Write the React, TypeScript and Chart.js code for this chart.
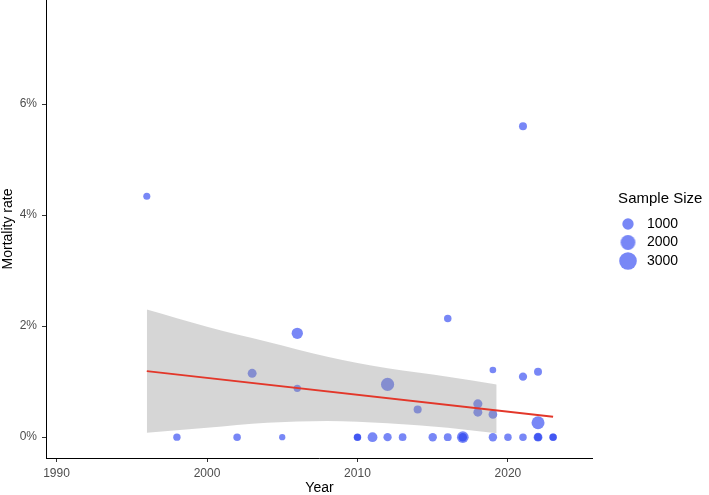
import React, { useEffect, useRef } from "react";
import { Chart, registerables } from "chart.js";

Chart.register(...registerables);

// ---- data ----
const pointYears = [
  1996, 1998, 2002, 2003, 2005, 2006, 2006, 2010, 2010, 2011, 2012, 2012,
  2013, 2014, 2015, 2016, 2016, 2017, 2017, 2018, 2018, 2019, 2019, 2019,
  2020, 2021, 2021, 2021, 2022, 2022, 2022, 2022, 2023, 2023,
];
const mortalityRates = [
  4.34, 0, 0, 1.15, 0, 1.87, 0.88, 0, 0, 0, 0, 0.95,
  0, 0.5, 0, 0, 2.14, 0, 0, 0.6, 0.45, 0, 0.41, 1.21,
  0, 0, 1.09, 5.6, 0, 0, 0.26, 1.18, 0, 0,
];
const sampleSizes = [
  150, 200, 220, 480, 40, 1000, 200, 220, 150, 650, 350, 1500,
  250, 320, 380, 280, 220, 1100, 400, 520, 470, 380, 430, 90,
  220, 220, 350, 300, 450, 250, 1450, 300, 220, 160,
];

const fitYears = [1996, 2023];
const fitRates = [1.19, 0.37];

const bandYears = [1996, 2000, 2004, 2008, 2012, 2016, 2019.25];
const bandUpper = [2.3, 1.99, 1.72, 1.45, 1.24, 1.09, 0.95];
const bandLower = [0.08, 0.17, 0.26, 0.29, 0.25, 0.17, 0.07];

const xTicks = [1990, 2000, 2010, 2020];
const yTicks = [0, 2, 4, 6];
const legendSizes = [1000, 2000, 3000];

// ---- styling ----
const POINT_COLOR = "rgba(30, 55, 240, 0.6)";
const BAND_COLOR = "rgba(153, 153, 153, 0.4)";
const FIT_COLOR = "#E3372A";
const sizeToRadius = (n: number) => Math.sqrt(9 + 0.023 * n);

Chart.defaults.font.family = "'Liberation Sans', Arial, Helvetica, sans-serif";

function makeDot(n: number): HTMLCanvasElement {
  const r = sizeToRadius(n);
  const s = Math.ceil(2 * r + 2);
  const c = document.createElement("canvas");
  c.width = s;
  c.height = s;
  const g = c.getContext("2d")!;
  g.fillStyle = POINT_COLOR;
  g.beginPath();
  g.arc(s / 2, s / 2, r, 0, Math.PI * 2);
  g.fill();
  return c;
}

// lets the legend title run past the item column without being clipped
const widenLegend = {
  id: "widenLegend",
  afterLayout(chart: any) {
    const lg = chart.legend;
    if (lg) {
      lg.right = chart.width;
      lg.width = lg.right - lg.left;
    }
  },
};

export default function App() {
  const ref = useRef<HTMLCanvasElement | null>(null);

  useEffect(() => {
    if (!ref.current) return;
    const chart = new Chart(ref.current, {
      type: "scatter",
      data: {
        datasets: [
          {
            type: "line",
            label: "lower",
            data: bandYears.map((x, i) => ({ x, y: bandLower[i] })),
            borderWidth: 0,
            borderColor: "rgba(0,0,0,0)",
            pointRadius: 0,
            fill: false,
            cubicInterpolationMode: "monotone",
            order: 1,
          },
          {
            type: "line",
            label: "upper",
            data: bandYears.map((x, i) => ({ x, y: bandUpper[i] })),
            borderWidth: 0,
            borderColor: "rgba(0,0,0,0)",
            backgroundColor: BAND_COLOR,
            pointRadius: 0,
            fill: "-1",
            cubicInterpolationMode: "monotone",
            order: 1,
          },
          {
            type: "line",
            label: "fit",
            data: fitYears.map((x, i) => ({ x, y: fitRates[i] })),
            borderColor: FIT_COLOR,
            borderWidth: 2,
            pointRadius: 0,
            fill: false,
            order: 0,
          },
          {
            type: "scatter",
            label: "Sample Size",
            data: pointYears.map((x, i) => ({ x, y: mortalityRates[i] })),
            backgroundColor: POINT_COLOR,
            borderWidth: 0,
            pointRadius: (ctx: any) => sizeToRadius(sampleSizes[ctx.dataIndex] ?? 0),
            pointHoverRadius: (ctx: any) => sizeToRadius(sampleSizes[ctx.dataIndex] ?? 0),
            order: 2,
          },
        ],
      } as any,
      options: {
        responsive: false,
        animation: false,
        events: [],
        layout: {
          autoPadding: false,
          padding: { top: 0, right: 20.9, bottom: 0, left: 0 },
        },
        scales: {
          x: {
            type: "linear",
            position: "bottom",
            min: 1989.3,
            max: 2025.65,
            afterBuildTicks: (scale: any) => {
              scale.ticks = xTicks.map((v) => ({ value: v }));
            },
            afterFit: (scale: any) => {
              scale.height = 37;
              scale.paddingLeft = 0;
              scale.paddingRight = 0;
              scale.paddingTop = 0;
              scale.paddingBottom = 0;
            },
            grid: {
              display: true,
              drawOnChartArea: false,
              drawTicks: true,
              tickLength: 4,
              color: "#333333",
              lineWidth: 1,
            },
            border: { display: true, color: "#000000", width: 1 },
            ticks: {
              autoSkip: false,
              maxRotation: 0,
              padding: 4,
              color: "#4D4D4D",
              font: { size: 12 },
              callback: (v: any) => String(v),
            },
            title: {
              display: true,
              text: "Year",
              color: "#000000",
              font: { size: 14, lineHeight: 1 },
              padding: { top: 0, bottom: 0 },
            },
          },
          y: {
            type: "linear",
            position: "left",
            min: -0.375,
            max: 7.875,
            afterBuildTicks: (scale: any) => {
              scale.ticks = yTicks.map((v) => ({ value: v }));
            },
            afterFit: (scale: any) => {
              scale.width = 46;
              scale.paddingLeft = 0;
              scale.paddingRight = 0;
              scale.paddingTop = 0;
              scale.paddingBottom = 0;
            },
            grid: {
              display: true,
              drawOnChartArea: false,
              drawTicks: true,
              tickLength: 4,
              color: "#333333",
              lineWidth: 1,
            },
            border: { display: true, color: "#000000", width: 1 },
            ticks: {
              padding: 5,
              color: "#4D4D4D",
              font: { size: 12 },
              callback: (v: any) => v + "%",
            },
            title: {
              display: true,
              text: "Mortality rate",
              color: "#000000",
              font: { size: 14 },
              padding: 0,
            },
          },
          gap: {
            type: "linear",
            position: "right",
            display: true,
            grid: { display: false, drawTicks: false },
            border: { display: false },
            ticks: { display: false },
            afterFit: (scale: any) => {
              scale.width = 18.5;
              scale.paddingTop = 0;
              scale.paddingBottom = 0;
            },
          },
        },
        plugins: {
          tooltip: { enabled: false },
          legend: {
            display: true,
            position: "right",
            align: "center",
            fullSize: false,
            onClick: () => {},
            title: {
              display: true,
              text: "Sample Size",
              position: "center",
              color: "#000000",
              font: { size: 15 },
              padding: { top: 6, bottom: 3 },
            },
            labels: {
              usePointStyle: true,
              pointStyleWidth: 24,
              padding: 4.5,
              color: "#000000",
              font: { size: 14 },
              generateLabels: () =>
                legendSizes.map((n) => ({
                  text: String(n),
                  pointStyle: makeDot(n),
                  fillStyle: POINT_COLOR,
                  strokeStyle: POINT_COLOR,
                  lineWidth: 0,
                  hidden: false,
                  datasetIndex: 3,
                })),
            },
          },
        },
      } as any,
      plugins: [widenLegend],
    });
    return () => chart.destroy();
  }, []);

  return (
    <div
      style={{
        position: "fixed",
        left: 0,
        top: 0,
        width: 709,
        height: 495,
        background: "#ffffff",
      }}
    >
      <canvas ref={ref} width={709} height={495} />
    </div>
  );
}
